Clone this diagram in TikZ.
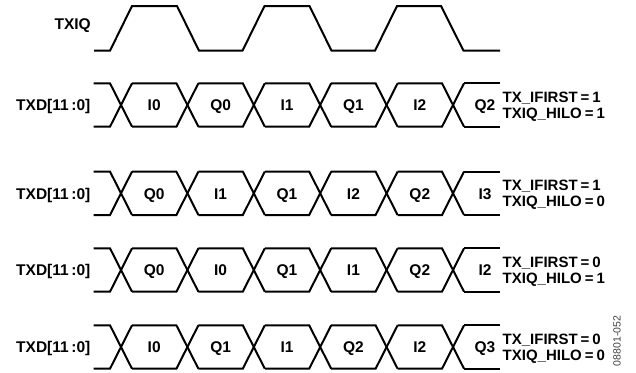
\documentclass[tikz,border=0pt]{standalone}
\usepackage{fontspec}
\setmainfont{Liberation Sans}
\newcommand{\eqsp}{\hspace{0.2em}}
\begin{document}
\begin{tikzpicture}[x=1pt,y=-1pt,
  wave/.style={line width=2pt, line join=miter},
  lbl/.style={font=\bfseries\fontsize{15.5}{17}\selectfont, inner sep=0pt},
  rlbl/.style={font=\bfseries\fontsize{15}{17}\selectfont, inner sep=0pt, anchor=base west},
  cell/.style={lbl, anchor=base},
  idtag/.style={font=\fontsize{10.5}{12}\selectfont, text=black!75, inner sep=0pt, rotate=90}]
\useasboundingbox (0,0) rectangle (636,372);
% TXIQ
\node[lbl, anchor=base east] (txiq) at (91,29.8) {TXIQ};
\draw[wave] (94,50.7) -- (110,50.7) -- (132,6) -- (177,6) -- (199,50.7)
  -- (242.5,50.7) -- (264.5,6) -- (309.5,6) -- (331.5,50.7)
  -- (375,50.7) -- (397,6) -- (441,6) -- (463.5,50.7) -- (500,50.7);
% bus rows
\foreach \c/\a/\b/\cc/\d/\e/\f/\p/\q [count=\r] in
  {105/I0/Q0/I1/Q1/I2/Q2/1/1,
   193.3/Q0/I1/Q1/I2/Q2/I3/1/0,
   270/Q0/I0/Q1/I1/Q2/I2/0/1,
   347/I0/Q1/I1/Q2/I2/Q3/0/0}{
  \pgfmathsetmacro{\t}{\c-21.7}
  \pgfmathsetmacro{\bt}{\c+21.7}
  \node[lbl, anchor=base east] (txd\r) at (90.5,\c+5.8) {TXD[11\,:0]};
  % left stubs and first crossing
  \draw[wave] (93.5,\t) -- (110,\t) -- (132,\bt);
  \draw[wave] (93.5,\bt) -- (110,\bt) -- (132,\t);
  \foreach \k in {0,...,4}{
    \pgfmathsetmacro{\xa}{121+66.4*\k+11}
    \pgfmathsetmacro{\xb}{121+66.4*(\k+1)-11}
    \pgfmathsetmacro{\xc}{121+66.4*(\k+1)+11}
    \draw[wave] (\xa,\t) -- (\xb,\t) -- (\xc,\bt);
    \draw[wave] (\xa,\bt) -- (\xb,\bt) -- (\xc,\t);
  }
  \draw[wave] (464,\t) -- (500,\t);
  \draw[wave] (464,\bt) -- (500,\bt);
  \node[cell] (c\r a) at (154.2,\c+5.8) {\a};
  \node[cell] (c\r b) at (220.6,\c+5.8) {\b};
  \node[cell] (c\r c) at (287.0,\c+5.8) {\cc};
  \node[cell] (c\r d) at (353.4,\c+5.8) {\d};
  \node[cell] (c\r e) at (419.8,\c+5.8) {\e};
  \node[cell] (c\r f) at (485,\c+5.8) {\f};
  \node[rlbl] (if\r) at (502.5,\c-2.8) {TX\_IFIRST\eqsp=\eqsp\p};
  \node[rlbl] (hl\r) at (502.5,\c+13.5) {TXIQ\_HILO\eqsp=\eqsp\q};
}
\node[idtag] (id) at (617,341) {08801-052};
\end{tikzpicture}
\end{document}
